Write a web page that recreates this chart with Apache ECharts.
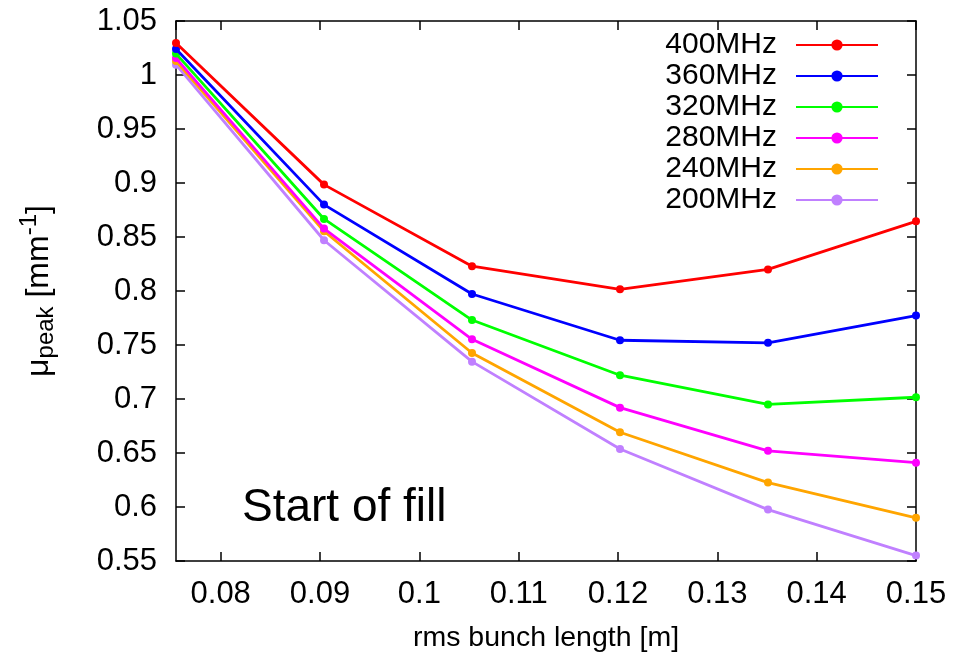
<!DOCTYPE html>
<html>
<head>
<meta charset="utf-8">
<script src="https://cdn.jsdelivr.net/npm/echarts@6/dist/echarts.min.js"></script>
<style>
html,body{margin:0;padding:0;background:#fff;}
#c{width:953px;height:655px;}
</style>
</head>
<body>
<div id="c"></div>
<script>
const bunchLength = [0.0755, 0.0904, 0.1053, 0.1202, 0.1351, 0.15];
const seriesNames = ['400MHz', '360MHz', '320MHz', '280MHz', '240MHz', '200MHz'];
const mu400 = [1.0296, 0.8985, 0.823, 0.8016, 0.820, 0.8645];
const mu360 = [1.024, 0.880, 0.7972, 0.7544, 0.752, 0.7772];
const mu320 = [1.0198, 0.8667, 0.7731, 0.722, 0.695, 0.7016];
const mu280 = [1.0157, 0.8578, 0.7553, 0.692, 0.652, 0.641];
const mu240 = [1.013, 0.8553, 0.7426, 0.6692, 0.6226, 0.590];
const mu200 = [1.0096, 0.847, 0.7346, 0.6537, 0.5976, 0.555];
const yTicks = [0.55, 0.6, 0.65, 0.7, 0.75, 0.8, 0.85, 0.9, 0.95, 1, 1.05];
const colors = ['#ff0000', '#0000ff', '#00ff00', '#ff00ff', '#ffa500', '#c080ff'];

const allMu = [mu400, mu360, mu320, mu280, mu240, mu200];
const FONT = '"Liberation Sans", Arial, Helvetica, sans-serif';

const chart = echarts.init(document.getElementById('c'), null, {renderer: 'canvas'});

const series = seriesNames.map((name, i) => ({
  name: name,
  type: 'line',
  xAxisIndex: 0,
  yAxisIndex: 0,
  data: bunchLength.map((x, j) => [x, allMu[i][j]]),
  symbol: 'circle',
  symbolSize: 8,
  showSymbol: true,
  lineStyle: {color: colors[i], width: 2.8},
  itemStyle: {color: colors[i]},
  z: 10 - i,
  animation: false
}));

const commonAxisLine = {show: true, lineStyle: {color: '#000', width: 1.5}};
const tickStyle = {show: true, inside: true, length: 9, lineStyle: {color: '#000', width: 1.5}};

const option = {
  backgroundColor: '#fff',
  animation: false,
  textStyle: {fontFamily: FONT},
  grid: {left: 176, right: 37, top: 21, bottom: 94, containLabel: false, outerBoundsMode: 'none'},
  legend: {
    orient: 'vertical',
    right: 69,
    top: 25,
    align: 'right',
    itemWidth: 82,
    itemHeight: 14,
    itemGap: 1,
    data: seriesNames,
    textStyle: {fontSize: 30, lineHeight: 30, color: '#000', fontFamily: FONT, padding: [0, 14, 0, 0]}
  },
  xAxis: [
    {
      type: 'value',
      position: 'bottom',
      min: bunchLength[0],
      max: bunchLength[bunchLength.length - 1],
      minInterval: 0.01,
      maxInterval: 0.01,
      splitNumber: 7,
      axisLine: commonAxisLine,
      axisTick: tickStyle,
      splitLine: {show: false},
      axisLabel: {
        showMinLabel: false,
        showMaxLabel: true,
        fontSize: 31,
        color: '#000',
        fontFamily: FONT,
        margin: 18,
        formatter: v => String(+(+v).toFixed(4))
      },
      name: 'rms bunch length [m]',
      nameLocation: 'middle',
      nameGap: 63,
      nameTextStyle: {fontSize: 28.5, color: '#000', fontFamily: FONT}
    },
    {
      type: 'value',
      position: 'top',
      min: bunchLength[0],
      max: bunchLength[bunchLength.length - 1],
      minInterval: 0.01,
      maxInterval: 0.01,
      splitNumber: 7,
      axisLine: commonAxisLine,
      axisTick: tickStyle,
      axisLabel: {show: false},
      splitLine: {show: false}
    }
  ],
  yAxis: [
    {
      type: 'value',
      position: 'left',
      min: yTicks[0],
      max: yTicks[yTicks.length - 1],
      interval: 0.05,
      axisLine: commonAxisLine,
      axisTick: tickStyle,
      splitLine: {show: false},
      axisLabel: {
        fontSize: 31,
        color: '#000',
        fontFamily: FONT,
        margin: 19,
        formatter: v => String(+(+v).toFixed(3))
      },
      name: '{m|μ}{sub|peak}{m| [mm}{sup|-1}{m|]}',
      nameLocation: 'middle',
      nameRotate: 90,
      nameGap: 117,
      nameTextStyle: {
        color: '#000',
        fontFamily: FONT,
        fontSize: 32,
        rich: {
          m: {fontSize: 32, fontFamily: FONT, color: '#000', lineHeight: 40, verticalAlign: 'middle'},
          sub: {fontSize: 24, fontFamily: FONT, color: '#000', lineHeight: 40, padding: [15, 0, 0, 0], verticalAlign: 'middle'},
          sup: {fontSize: 24, fontFamily: FONT, color: '#000', lineHeight: 40, padding: [0, 0, 20, 0], verticalAlign: 'middle'}
        }
      }
    },
    {
      type: 'value',
      position: 'right',
      min: yTicks[0],
      max: yTicks[yTicks.length - 1],
      interval: 0.05,
      axisLine: commonAxisLine,
      axisTick: tickStyle,
      axisLabel: {show: false},
      splitLine: {show: false}
    }
  ],
  graphic: [
    {
      type: 'text',
      left: 242,
      top: 485,
      style: {text: 'Start of fill', fontSize: 46, fontFamily: FONT, fill: '#000'},
      z: 100
    }
  ],
  series: series
};

chart.setOption(option);
</script>
</body>
</html>
